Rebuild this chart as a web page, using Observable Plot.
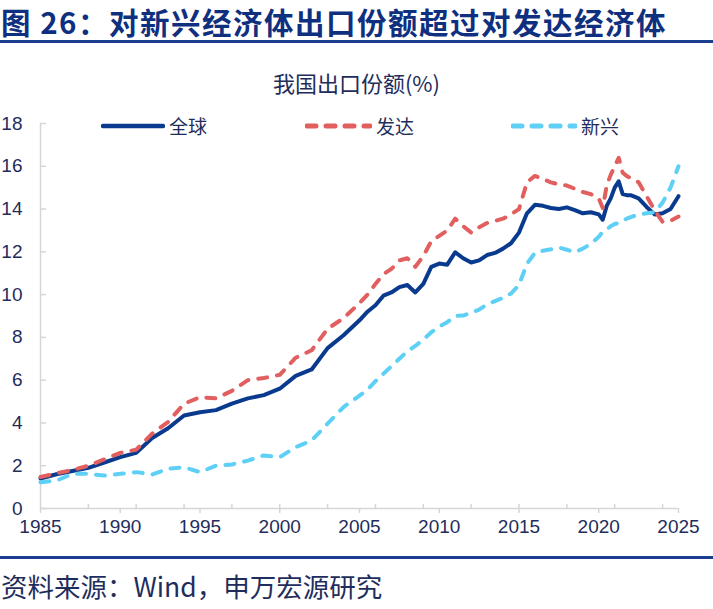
<!DOCTYPE html>
<html><head><meta charset="utf-8">
<script src="https://cdn.jsdelivr.net/npm/d3@7"></script>
<script src="https://cdn.jsdelivr.net/npm/@observablehq/plot@0.6"></script>
<style>
body{margin:0;width:713px;height:609px;position:relative;overflow:hidden;background:#fff;font-family:"Liberation Sans",Arial,"Noto Sans CJK SC",sans-serif;color:#1f2d5c;}
#title{position:absolute;left:1px;top:0;font-family:"Noto Sans CJK SC";font-weight:bold;font-size:29.5px;line-height:43px;letter-spacing:1.5px;color:#0f2f7f;white-space:nowrap;}
.rule{position:absolute;left:0;width:713px;height:3px;background:#1b3d8f;}
#sub{position:absolute;left:0;width:713px;top:66px;text-align:center;font-family:"Noto Sans CJK SC";font-size:22px;line-height:32px;}
#chart{position:absolute;left:0;top:100px;}
#legend{position:absolute;left:0;top:110px;width:713px;height:32px;}
.item{position:absolute;top:0;height:32px;display:flex;align-items:center;font-family:"Noto Sans CJK SC";font-size:19px;line-height:30px;}
.item svg{margin-right:4px;}
#source{position:absolute;left:1px;top:566px;font-family:"Noto Sans CJK SC";font-size:26.5px;line-height:39px;white-space:nowrap;}
</style></head>
<body>
<div id="title">图 26：对新兴经济体出口份额超过对发达经济体</div>
<div class="rule" style="top:40px"></div>
<div id="sub">我国出口份额(%)</div>
<div id="chart"></div>
<div id="legend"></div>
<div class="rule" style="top:556px"></div>
<div id="source">资料来源：Wind，申万宏源研究</div>
<script>
const years = [1985,1986,1987,1988,1989,1990,1991,1992,1993,1994,1995,1996,1997,1998,1999,2000,2001,2002,2003,2004,2005,
  2005.5,2006,2006.5,2007,2007.5,2008,2008.5,2009,2009.5,2010,2010.5,2011,2011.5,2012,2012.5,2013,2013.5,2014,2014.5,2015,2015.5,2016,2016.5,2017,2017.5,2018,2018.5,2019,2019.5,
  2020,2020.25,2020.5,2020.75,2021,2021.25,2021.5,2021.75,2022,2022.5,2023,2023.5,2024,2024.5,2025];
const globalShare = [1.4,1.6,1.75,1.9,2.15,2.4,2.6,3.3,3.75,4.35,4.5,4.6,4.9,5.15,5.3,5.6,6.2,6.5,7.5,8.1,8.8,
  9.2,9.5,9.95,10.1,10.35,10.45,10.1,10.5,11.3,11.45,11.4,11.98,11.7,11.5,11.6,11.85,11.95,12.15,12.4,12.9,13.8,14.2,14.15,14.05,14.0,14.08,13.95,13.8,13.85,
  13.75,13.5,14.15,14.5,15.0,15.3,14.7,14.65,14.65,14.5,14.1,13.75,13.8,14.0,14.6];
const developedShare = [1.47,1.65,1.8,2.0,2.3,2.6,2.75,3.5,4.05,4.9,5.2,5.15,5.5,6.0,6.1,6.25,7.05,7.4,8.4,8.9,9.6,
  10.0,10.5,10.95,11.2,11.6,11.7,11.3,11.8,12.5,12.75,13.0,13.55,13.2,12.9,13.15,13.35,13.45,13.55,13.75,14.0,15.25,15.55,15.4,15.25,15.15,15.1,14.95,14.8,14.7,
  14.5,14.05,15.1,15.6,16.0,16.4,15.7,15.55,15.45,15.25,14.6,13.95,13.4,13.45,13.65];
const emergingShare = [1.23,1.3,1.62,1.62,1.54,1.62,1.7,1.59,1.86,1.93,1.7,2.0,2.06,2.24,2.48,2.4,2.87,3.18,3.97,4.74,5.28,
  5.55,5.95,6.3,6.65,7.0,7.35,7.6,7.9,8.24,8.5,8.71,9.0,9.02,9.15,9.3,9.55,9.7,9.85,10.05,10.45,11.45,11.95,12.05,12.12,12.2,12.1,11.98,12.15,12.37,
  12.7,12.95,13.05,13.2,13.3,13.35,13.45,13.55,13.62,13.75,13.8,13.85,14.3,15.0,16.0];
const seriesNames = ["全球","发达","新兴"];
const yTicks = [0,2,4,6,8,10,12,14,16,18];
const xLabelTicks = [1985,1990,1995,2000,2005,2010,2015,2020,2025];
const xMinorTicks = [1988,1991,1994,1997,2000,2003,2006,2009,2012,2015,2018,2021,2024];

const colors = ["#0a3a8e","#e25f5f","#5fd0f5"];
const dashes = [null,"9,10","9,10"];
const textColor = "#1f2d5c";
const axisGray = "#d6d6d6";
const seriesValues = [globalShare, developedShare, emergingShare];

const chart = Plot.plot({
  width: 713, height: 450,
  marginTop: 23, marginBottom: 42, marginLeft: 40, marginRight: 35,
  style: {fontFamily: '"Liberation Sans", Arial, sans-serif', fontSize: "19px", color: textColor, background: "transparent", overflow: "visible"},
  x: {domain: [years[0], 2025]},
  y: {domain: [0, 18]},
  marks: [
    Plot.ruleX([years[0]], {y1: yTicks[0], y2: yTicks[yTicks.length-1], stroke: axisGray, strokeWidth: 1.5}),
    Plot.ruleY([0], {stroke: axisGray, strokeWidth: 1.5}),
    Plot.axisY({ticks: yTicks, tickSize: 0, tickPadding: 18, fontSize: 19, fill: textColor, label: null}),
    Plot.axisY({ticks: yTicks, tickSize: -6, tickFormat: () => "", stroke: axisGray, strokeWidth: 1.5, label: null}),
    Plot.axisX({ticks: xLabelTicks, tickSize: 5, tickPadding: 6, tickFormat: d => String(d), fontSize: 19, fill: textColor, stroke: axisGray, strokeWidth: 1.5, label: null}),
    Plot.axisX({ticks: xMinorTicks, tickSize: -4, tickFormat: () => "", stroke: axisGray, strokeWidth: 1.5, label: null}),
    ...seriesValues.map((vals, i) => Plot.line(years, {x: years, y: vals, stroke: colors[i], strokeWidth: 4, strokeDasharray: dashes[i], strokeLinecap: "round", strokeLinejoin: "round"}))
  ]
});
document.getElementById("chart").appendChild(chart);

const legendPos = [[103,60],[307,63],[513,62]];
const legend = document.getElementById("legend");
seriesNames.forEach((name, i) => {
  const div = document.createElement("div");
  div.className = "item";
  div.style.left = (legendPos[i][0] - 2) + "px";
  const w = legendPos[i][1] + 4;
  div.innerHTML = `<svg width="${w}" height="10"><line x1="2" y1="5" x2="${w-2}" y2="5" stroke="${colors[i]}" stroke-width="${i===0?4.5:5}" stroke-linecap="round" ${dashes[i] ? `stroke-dasharray="${dashes[i]}"` : ""}/></svg><span>${name}</span>`;
  legend.appendChild(div);
});
</script>
</body></html>
